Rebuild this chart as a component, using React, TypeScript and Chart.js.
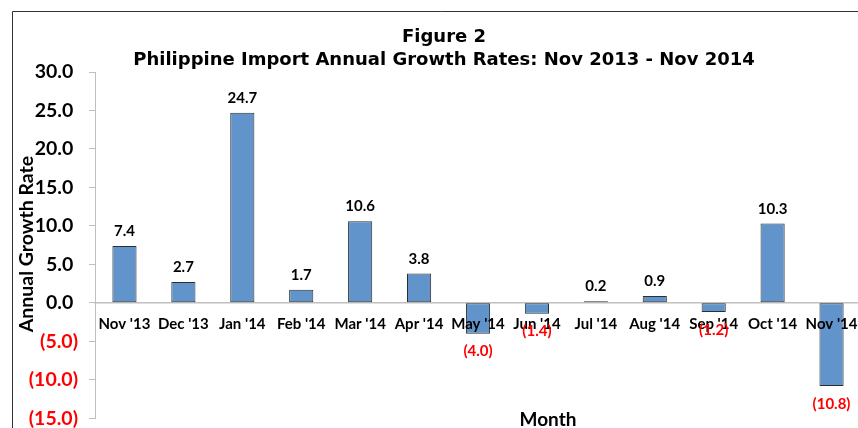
import React, { useEffect, useRef } from "react";
import { Chart, registerables } from "chart.js";

Chart.register(...registerables);

const titleLines = ["Figure 2", "Philippine Import Annual Growth Rates: Nov 2013 - Nov 2014"];
const months = ["Nov '13", "Dec '13", "Jan '14", "Feb '14", "Mar '14", "Apr '14", "May '14", "Jun '14", "Jul '14", "Aug '14", "Sep '14", "Oct '14", "Nov '14"];
const growthRates = [7.4, 2.7, 24.7, 1.7, 10.6, 3.8, -4.0, -1.4, 0.2, 0.9, -1.2, 10.3, -10.8];
const yMin = -15;
const yMax = 30;
const yStep = 5;
const xTitle = "Month";
const yTitle = "Annual Growth Rate";

const fmt = (v: number) => (v < 0 ? `(${Math.abs(v).toFixed(1)})` : v.toFixed(1));

const frameAndLabelsPlugin = {
  id: "customLabels",
  beforeDraw(chart: any) {
    const ctx = chart.ctx;
    ctx.save();
    ctx.fillStyle = "#ffffff";
    ctx.fillRect(0, 0, chart.width, chart.height);
    ctx.strokeStyle = "#333333";
    ctx.lineWidth = 1;
    ctx.beginPath();
    ctx.moveTo(12.5, chart.height);
    ctx.lineTo(12.5, 11.5);
    ctx.lineTo(chart.width, 11.5);
    ctx.stroke();
    ctx.restore();
  },
  afterDraw(chart: any) {
    const ctx = chart.ctx;
    const meta = chart.getDatasetMeta(0);
    ctx.save();
    ctx.font = "bold 15px Lato";
    ctx.textAlign = "center";
    meta.data.forEach((bar: any, i: number) => {
      const v = growthRates[i];
      if (v >= 0) {
        ctx.fillStyle = "#000000";
        ctx.textBaseline = "alphabetic";
        ctx.fillText(fmt(v), bar.x, bar.y - 10);
      } else {
        ctx.fillStyle = "#FF0000";
        ctx.textBaseline = "middle";
        ctx.fillText(fmt(v), bar.x, bar.y + 18);
      }
    });
    ctx.fillStyle = "#000000";
    ctx.font = "bold 19px Lato";
    ctx.textBaseline = "middle";
    ctx.fillText(xTitle, 548, 420);
    ctx.translate(27, 244);
    ctx.rotate(-Math.PI / 2);
    ctx.font = "bold 19.5px Lato";
    ctx.fillText(yTitle, 0, 0);
    ctx.restore();
  },
};

export default function App() {
  const ref = useRef<HTMLCanvasElement>(null);
  useEffect(() => {
    document.documentElement.style.overflow = "hidden";
    document.body.style.overflow = "hidden";
    if (!ref.current) return;
    const chart = new Chart(ref.current, {
      type: "bar",
      data: {
        labels: months,
        datasets: [
          {
            data: growthRates,
            backgroundColor: "#6194CB",
            borderColor: "#2E2E2E",
            borderWidth: 1,
            borderSkipped: false,
            barPercentage: 0.41,
            categoryPercentage: 1,
          },
        ],
      },
      options: {
        responsive: false,
        animation: false,
        devicePixelRatio: 1,
        layout: { padding: { left: 27, right: 9, top: 0, bottom: 0 } },
        plugins: {
          legend: { display: false },
          tooltip: { enabled: false },
          title: {
            display: true,
            text: titleLines,
            color: "#000000",
            font: { family: "DejaVu Sans", weight: "bold", size: 18, lineHeight: 23 / 18 },
            padding: { top: 26, bottom: 0 },
          },
        },
        scales: {
          x: {
            type: "category",
            position: { y: 0 },
            offset: true,
            grid: { display: false, drawTicks: false },
            border: { display: true, color: "#C0C0C0", width: 1.5, z: 0 },
            ticks: {
              z: 1,
              color: "#000000",
              font: { family: "Lato", weight: "bold", size: 15 },
              padding: 12,
              maxRotation: 0,
              autoSkip: false,
            },
            afterFit(scale: any) {
              scale.height = 0;
            },
          },
          y: {
            min: yMin,
            max: yMax,
            grid: { display: true, drawOnChartArea: false, drawTicks: true, tickLength: 6, color: "#BFBFBF" },
            border: { display: true, color: "#BFBFBF", width: 1 },
            ticks: {
              stepSize: yStep,
              padding: 11,
              font: { family: "Lato", weight: "bold", size: 19.5 },
              color: (c: any) => (c.tick && c.tick.value < 0 ? "#FF0000" : "#000000"),
              callback: (v: any) => (Number(v) < 0 ? fmt(Number(v)) : fmt(Number(v)) + " "),
            },
            afterFit(scale: any) {
              scale.width = 68;
            },
          },
        },
      },
      plugins: [frameAndLabelsPlugin],
    });
    return () => chart.destroy();
  }, []);

  return <canvas ref={ref} width={870} height={441} style={{ position: "fixed", left: 0, top: 0, width: 870, height: 441 }} />;
}
